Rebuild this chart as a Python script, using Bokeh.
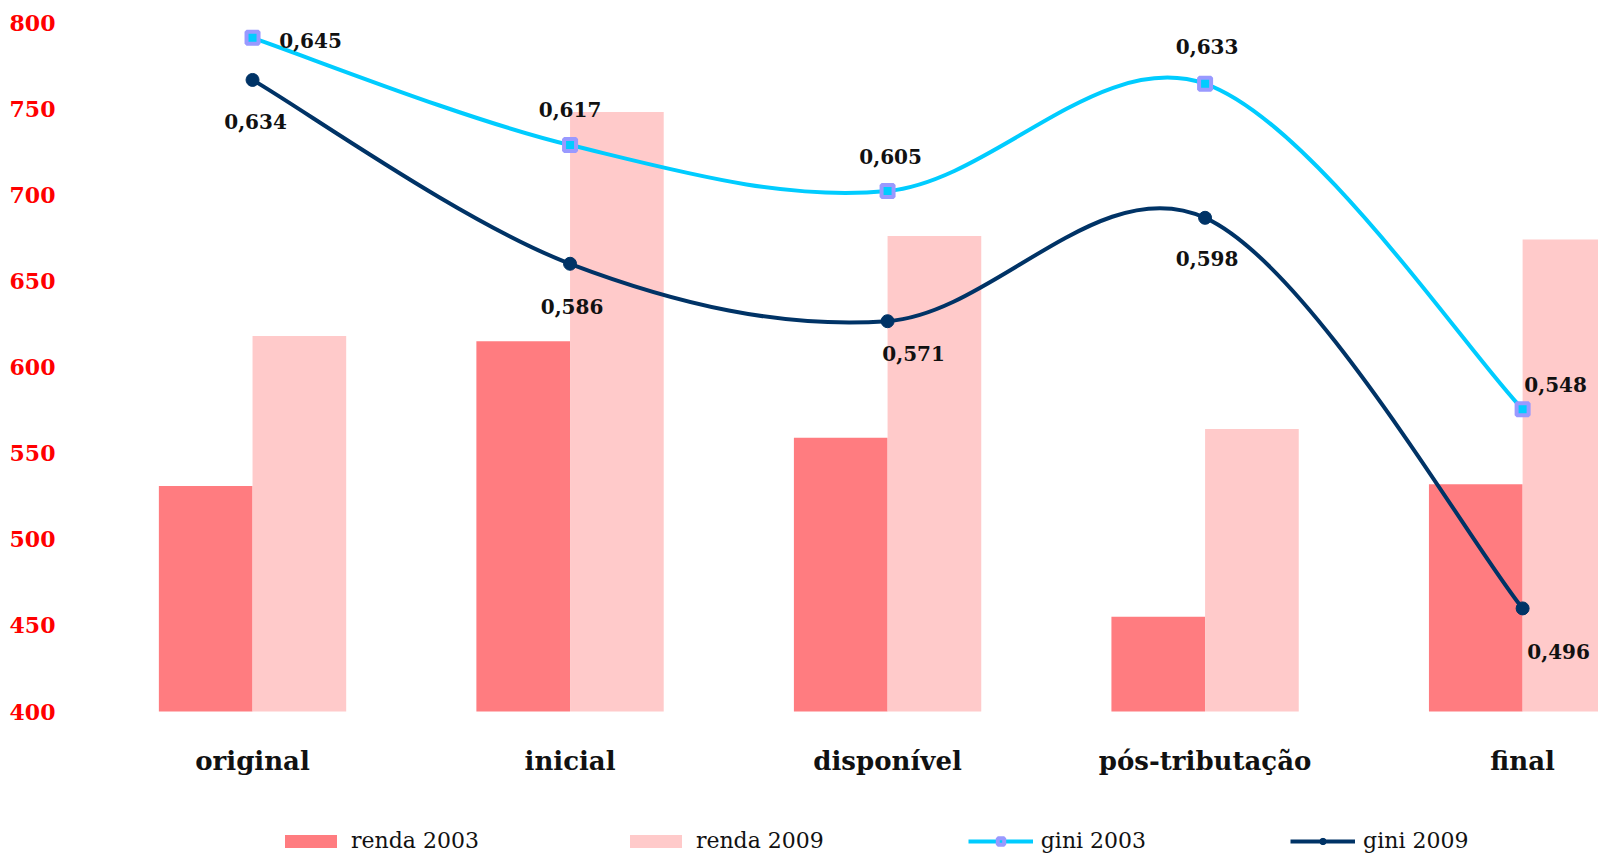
from bokeh.plotting import figure
from bokeh.models import Range1d, FixedTicker, Legend, LegendItem, ColumnDataSource
from bokeh.transform import dodge
from bokeh.embed import file_html
from bokeh.resources import INLINE
from bokeh.core.properties import value

# ---- data ----
categories = ["original", "inicial", "disponível", "pós-tributação", "final"]
renda_2003 = [531, 615, 559, 455, 532]
renda_2009 = [618, 748, 676, 564, 674]
gini_2003 = [0.645, 0.617, 0.605, 0.633, 0.548]
gini_2009 = [0.634, 0.586, 0.571, 0.598, 0.496]
y_ticks = [400, 450, 500, 550, 600, 650, 700, 750, 800]
y_base = 400

# ---- styles / positions ----
C_R03 = "#FF7C80"
C_R09 = "#FFCACA"
C_G03 = "#00CCFF"
C_G09 = "#003366"
C_MK03 = "#9999FF"
SERIF = "DejaVu Serif"
TXT = "#111111"

# label offsets in screen px (dx, dy positive = right / down)
off_2003 = [(58, 3), (0, -36), (3, -34), (2, -37), (33, -25)]
off_2009 = [(3, 42), (2, 43), (26, 32), (2, 41), (36, 43)]

xs = list(range(len(categories)))

def fmt(v):
    return f"{v:.3f}".replace(".", ",")

def smooth_segments(xv, yv):
    # cubic Bezier control points (Catmull-Rom style, as a spreadsheet "smoothed line")
    n = len(xv)
    seg = dict(x0=[], y0=[], x1=[], y1=[], cx0=[], cy0=[], cx1=[], cy1=[])
    for i in range(n - 1):
        ip = max(i - 1, 0)
        inn = min(i + 2, n - 1)
        seg["x0"].append(xv[i]); seg["y0"].append(yv[i])
        seg["x1"].append(xv[i + 1]); seg["y1"].append(yv[i + 1])
        seg["cx0"].append(xv[i] + (xv[i + 1] - xv[ip]) / 6.0)
        seg["cy0"].append(yv[i] + (yv[i + 1] - yv[ip]) / 6.0)
        seg["cx1"].append(xv[i + 1] - (xv[inn] - xv[i]) / 6.0)
        seg["cy1"].append(yv[i + 1] - (yv[inn] - yv[i]) / 6.0)
    return seg

p = figure(width=1598, height=853, output_backend="svg", toolbar_location=None,
           x_range=Range1d(-0.567, 4.239), y_range=Range1d(317.6, 800),
           x_axis_location=None,
           min_border_left=72, min_border_right=0, min_border_top=22,
           min_border_bottom=0)
p.extra_y_ranges = {"gini": Range1d(0.432, 0.649)}
p.grid.visible = False
p.outline_line_color = None
p.background_fill_color = "white"
p.border_fill_color = "white"

src = ColumnDataSource(dict(x=xs, r03=renda_2003, r09=renda_2009,
                            g03=gini_2003, g09=gini_2009,
                            base=[y_base] * len(xs), cat=categories))

bw = 0.295
b03 = p.vbar(x=dodge("x", -bw / 2, range=p.x_range), top="r03", bottom="base", width=bw,
             source=src, fill_color=C_R03, line_color=None)
b09 = p.vbar(x=dodge("x", bw / 2, range=p.x_range), top="r09", bottom="base", width=bw,
             source=src, fill_color=C_R09, line_color=None)

s03 = ColumnDataSource(smooth_segments(xs, gini_2003))
s09 = ColumnDataSource(smooth_segments(xs, gini_2009))
l03 = p.bezier(x0="x0", y0="y0", x1="x1", y1="y1", cx0="cx0", cy0="cy0", cx1="cx1", cy1="cy1",
               source=s03, line_color=C_G03, line_width=4, y_range_name="gini")
l09 = p.bezier(x0="x0", y0="y0", x1="x1", y1="y1", cx0="cx0", cy0="cy0", cx1="cx1", cy1="cy1",
               source=s09, line_color=C_G09, line_width=4, y_range_name="gini")

m03 = p.scatter(x="x", y="g03", source=src, marker="square", size=12,
                fill_color=C_G03, line_color=C_MK03, line_width=4, y_range_name="gini")
m09 = p.scatter(x="x", y="g09", source=src, marker="circle", size=13,
                fill_color=C_G09, line_color=C_G09, y_range_name="gini")

lab03 = ColumnDataSource(dict(x=xs, y=gini_2003, t=[fmt(v) for v in gini_2003],
                              dx=[o[0] for o in off_2003], dy=[o[1] for o in off_2003]))
lab09 = ColumnDataSource(dict(x=xs, y=gini_2009, t=[fmt(v) for v in gini_2009],
                              dx=[o[0] for o in off_2009], dy=[o[1] for o in off_2009]))
for ls in (lab03, lab09):
    p.text(x="x", y="y", text="t", x_offset="dx", y_offset="dy", source=ls,
           y_range_name="gini", text_font=value(SERIF), text_font_style="bold",
           text_font_size="20px", text_color=TXT, text_align="center",
           text_baseline="middle")

# category labels under the bars
p.text(x="x", y="base", text="cat", source=src, y_offset=49,
       text_font=value(SERIF), text_font_style="bold", text_font_size="26px",
       text_color=TXT, text_align="center", text_baseline="alphabetic")

# left axis
ya = p.yaxis[0]
ya.ticker = FixedTicker(ticks=y_ticks)
ya.axis_line_color = None
ya.major_tick_line_color = None
ya.minor_tick_line_color = None
ya.major_tick_out = 0
ya.major_tick_in = 0
ya.major_label_standoff = 17
ya.major_label_text_color = "#FF0000"
ya.major_label_text_font = SERIF
ya.major_label_text_font_style = "bold"
ya.major_label_text_font_size = "22px"

legend = Legend(items=[
    LegendItem(label="renda 2003", renderers=[b03]),
    LegendItem(label="renda 2009", renderers=[b09]),
    LegendItem(label="gini 2003", renderers=[l03, m03]),
    LegendItem(label="gini 2009", renderers=[l09, m09]),
], orientation="horizontal", location=(206, 0), padding=0, margin=0,
   spacing=144, glyph_width=65, glyph_height=16, label_standoff=8,
   border_line_color=None, background_fill_alpha=0,
   label_text_font=SERIF, label_text_font_size="22px", label_text_color=TXT)
p.add_layout(legend)

open("out.html", "w").write(file_html(p, INLINE))
